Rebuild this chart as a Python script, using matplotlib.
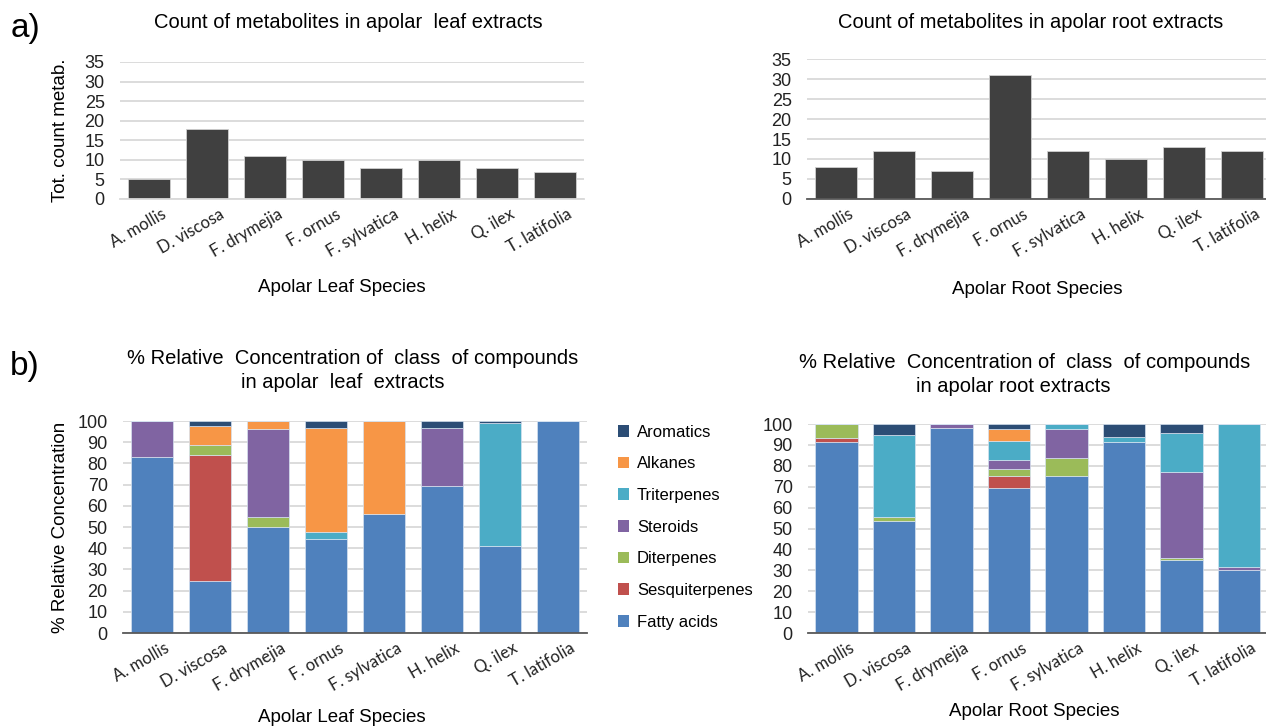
import matplotlib.pyplot as plt
import matplotlib.transforms as mtransforms
import numpy as np
from matplotlib.patches import Patch

plt.rcParams["font.family"] = ["Liberation Sans", "DejaVu Sans"]

SPECIES = ["A. mollis", "D. viscosa", "F. drymejia", "F. ornus",
           "F. sylvatica", "H. helix", "Q. ilex", "T. latifolia"]

# Panel a) total counts of metabolites
LEAF_COUNTS = [5, 18, 11, 10, 8, 10, 8, 7]
ROOT_COUNTS = [8, 12, 7, 31, 12, 10, 13, 12]

# Panel b) % relative concentration, stacked from bottom to top
CLASSES = ["Fatty acids", "Sesquiterpenes", "Diterpenes", "Steroids",
           "Triterpenes", "Alkanes", "Aromatics"]
LEAF_FATTY = [83, 24.5, 50, 44.5, 56, 69.5, 41, 100]
LEAF_SESQUI = [0, 59.5, 0, 0, 0, 0, 0, 0]
LEAF_DITERP = [0, 4.5, 4.5, 0, 0, 0, 0, 0]
LEAF_STEROIDS = [17, 0, 41.5, 0, 0, 27, 0, 0]
LEAF_TRITERP = [0, 0, 0, 3, 0, 0, 58, 0]
LEAF_ALKANES = [0, 9, 4, 49, 44, 0, 0, 0]
LEAF_AROMATICS = [0, 2.5, 0, 3.5, 0, 3.5, 1, 0]

ROOT_FATTY = [91.5, 53.5, 98, 69.5, 75, 91.5, 35, 30]
ROOT_SESQUI = [2, 0, 0, 5.5, 0, 0, 0, 0]
ROOT_DITERP = [6.5, 2, 0, 3.5, 8.5, 0, 1, 0]
ROOT_STEROIDS = [0, 0, 2, 4.5, 14, 0, 41, 1.5]
ROOT_TRITERP = [0, 39, 0, 9, 2.5, 2.5, 18.5, 68.5]
ROOT_ALKANES = [0, 0, 0, 5.5, 0, 0, 0, 0]
ROOT_AROMATICS = [0, 5.5, 0, 2.5, 0, 6, 4.5, 0]

CLASS_COLORS = ["#4F81BD", "#C0504D", "#9BBB59", "#8064A2",
                "#4BACC6", "#F79646", "#2C4D75"]

W, H = 1266, 728
TICK_FONT = ["Lato", "DejaVu Sans"]


def px_axes(fig, left, right, top, bottom):
    """Add an axes placed with pixel coordinates (origin top-left)."""
    return fig.add_axes([left / W, 1 - bottom / H, (right - left) / W, (bottom - top) / H])


def style_axes(ax, ymax, ystep, base_color, xmax=7.5):
    ax.set_ylim(0, ymax)
    ax.set_xlim(-0.5, xmax)
    ax.set_yticks(np.arange(0, ymax + 1, ystep))
    ax.yaxis.grid(True, color="#D9D9D9", linewidth=1.3)
    ax.set_axisbelow(True)
    for side in ["top", "right", "left"]:
        ax.spines[side].set_visible(False)
    ax.spines["bottom"].set_color(base_color)
    ax.spines["bottom"].set_linewidth(1.3)
    ax.tick_params(axis="both", length=0)
    ax.tick_params(axis="y", labelsize=13, pad=11, colors="#222222")
    ax.set_xticks(range(len(SPECIES)))
    ax.set_xticklabels(SPECIES, rotation=30, ha="right", rotation_mode="anchor",
                       fontsize=12, family=TICK_FONT, color="#222222")
    ax.tick_params(axis="x", pad=5)
    # Excel puts the end of the rotated label a little right of the bar centre
    shift = mtransforms.ScaledTranslation(12 / 100, 0, ax.figure.dpi_scale_trans)
    for lbl in ax.get_xticklabels():
        lbl.set_transform(lbl.get_transform() + shift)


def count_chart(ax, counts):
    ax.bar(range(len(counts)), counts, width=0.72, color="#404040",
           edgecolor="#D0D0D0", linewidth=0.6)


def stacked_chart(ax, layers):
    bottom = np.zeros(len(SPECIES))
    for values, color in zip(layers, CLASS_COLORS):
        ax.bar(range(len(SPECIES)), values, width=0.74, bottom=bottom, color=color,
               edgecolor="#D6E2F0", linewidth=0.5)
        bottom += np.array(values)


fig = plt.figure(figsize=(W / 100, H / 100), dpi=100)

# a) counts
ax1 = px_axes(fig, 120, 584, 62, 199)
count_chart(ax1, LEAF_COUNTS)
style_axes(ax1, 35, 5, "#D9D9D9")
ax1.set_ylabel("Tot. count metab.", fontsize=13.5, labelpad=11)

ax2 = px_axes(fig, 807, 1266, 59, 199)
count_chart(ax2, ROOT_COUNTS)
style_axes(ax2, 35, 5, "#595959", xmax=7.41)

# b) relative concentrations
leaf_layers = [LEAF_FATTY, LEAF_SESQUI, LEAF_DITERP, LEAF_STEROIDS,
               LEAF_TRITERP, LEAF_ALKANES, LEAF_AROMATICS]
root_layers = [ROOT_FATTY, ROOT_SESQUI, ROOT_DITERP, ROOT_STEROIDS,
               ROOT_TRITERP, ROOT_ALKANES, ROOT_AROMATICS]

ax3 = px_axes(fig, 123, 587, 421, 633)
stacked_chart(ax3, leaf_layers)
style_axes(ax3, 100, 10, "#595959")
ax3.set_ylabel("% Relative Concentration", fontsize=13.5, labelpad=6)

ax4 = px_axes(fig, 808, 1266, 424, 633)
stacked_chart(ax4, root_layers)
style_axes(ax4, 100, 10, "#595959", xmax=7.47)


# Titles and axis labels placed in pixel space
def fig_text(x, y, s, **kw):
    fig.text(x / W, 1 - y / H, s, ha="center", va="center", **kw)


fig_text(348, 22, "Count of metabolites in apolar  leaf extracts", fontsize=14.5)
fig_text(1031, 22, "Count of metabolites in apolar root extracts", fontsize=14.5)
fig_text(342, 288, "Apolar Leaf Species", fontsize=13.5)
fig_text(1037, 290, "Apolar Root Species", fontsize=13.5)
fig_text(353, 359, "% Relative  Concentration of  class  of compounds", fontsize=14.5)
fig_text(343, 383, "in apolar  leaf  extracts", fontsize=14.5)
fig_text(1025, 362, "% Relative  Concentration of  class  of compounds", fontsize=14.5)
fig_text(1013, 386, "in apolar root extracts", fontsize=14.5)
fig_text(342, 717, "Apolar Leaf Species", fontsize=13.5)
fig_text(1034, 712, "Apolar Root Species", fontsize=13.5)
fig_text(25, 28, "a)", fontsize=24)
fig_text(25, 366, "b)", fontsize=24)

# Legend, top entry is the top of the stack
handles = [Patch(facecolor=c, label=n) for n, c in zip(CLASSES, CLASS_COLORS)][::-1]
fig.legend(handles=handles, loc="upper left", bbox_to_anchor=(611 / W, 1 - 418 / H),
           frameon=False, fontsize=12, handlelength=0.7, handleheight=0.7,
           handletextpad=0.45, labelspacing=1.0, borderaxespad=0)

plt.savefig("out.png", dpi=100)
